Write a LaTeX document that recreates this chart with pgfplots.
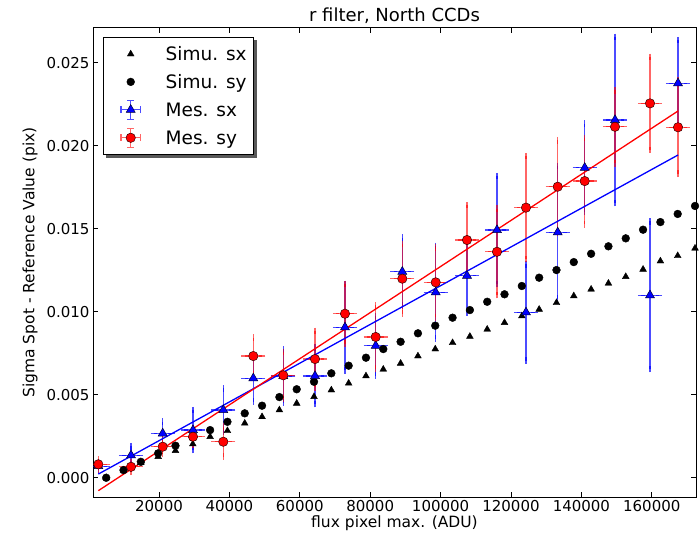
\documentclass[border=0pt]{standalone}
\usepackage{pgfplots}
\pgfplotsset{compat=1.18}
\usepackage{pgfplotstable}
\usepackage{fontspec}
\setmainfont{DejaVu Sans}
\pgfdeclarelayer{shadowlayer}
\pgfsetlayers{shadowlayer,main}

\pgfplotsset{
  simimg/.style={legend image code/.code={\path[draw=none,fill=none] (0pt,-10pt) rectangle (55pt,10pt); \draw[##1] plot coordinates {(22pt,0pt)};}},
  errimg/.style={legend image code/.code={\path[draw=none,fill=none] (0pt,-10pt) rectangle (55pt,10pt);
    \draw[#1, line width=1.2pt] (22pt,-9.5pt)--(22pt,9.5pt) (12.3pt,0pt)--(31.7pt,0pt)
     (18.7pt,-9.5pt)--(25.3pt,-9.5pt) (18.7pt,9.5pt)--(25.3pt,9.5pt)
     (12.3pt,-3.3pt)--(12.3pt,3.3pt) (31.7pt,-3.3pt)--(31.7pt,3.3pt);
    \draw[##1] plot coordinates {(22pt,0pt)};}},
}

\pgfplotstableread{
x y
5000 0.00000
9920 0.00046
14840 0.00090
19760 0.00127
24680 0.00163
29600 0.00203
34520 0.00247
39440 0.00283
44360 0.00328
49280 0.00367
54200 0.00408
59120 0.00448
64040 0.00488
68960 0.00528
73880 0.00569
78800 0.00613
83720 0.00653
88640 0.00689
93560 0.00733
98480 0.00775
103400 0.00813
108320 0.00851
113240 0.00894
118160 0.00934
123080 0.00974
128000 0.01014
132920 0.01054
137840 0.01095
142760 0.01135
147680 0.01171
152600 0.01211
157520 0.01255
162440 0.01305
167360 0.01337
172280 0.01382
}\simsx

\pgfplotstableread{
x y
5000 0.00000
9920 0.00046
14840 0.00096
19760 0.00147
24680 0.00193
29600 0.00243
34520 0.00287
39440 0.00337
44360 0.00388
49280 0.00434
54200 0.00486
59120 0.00533
64040 0.00578
68960 0.00629
73880 0.00675
78800 0.00723
83720 0.00775
88640 0.00819
93560 0.00870
98480 0.00916
103400 0.00964
108320 0.01010
113240 0.01060
118160 0.01105
123080 0.01155
128000 0.01205
132920 0.01251
137840 0.01299
142760 0.01349
147680 0.01394
152600 0.01442
157520 0.01494
162440 0.01540
167360 0.01589
172280 0.01637
}\simsy

\pgfplotstableread{
x y ex ey
2760 0.00070 2500 0.00025
12050 0.00135 2500 0.00055
21050 0.00267 2500 0.00070
29660 0.00287 2500 0.00120
38270 0.00408 2500 0.00130
46790 0.00599 2500 0.00140
55310 0.00613 2500 0.00160
64320 0.00613 2500 0.00170
72840 0.00906 2500 0.00260
81560 0.00795 2500 0.00180
89120 0.01241 2500 0.00205
98610 0.01117 2500 0.00280
107500 0.01217 2500 0.00220
116020 0.01492 2500 0.00325
124260 0.00996 2500 0.00290
133270 0.01478 2500 0.00400
140940 0.01867 2500 0.00265
149550 0.02155 2500 0.00500
159490 0.01099 2500 0.00445
167450 0.02376 2500 0.00260
}\messx

\pgfplotstableread{
x y ex ey
2760 0.00081 2500 0.00030
12050 0.00066 2500 0.00030
21050 0.00187 2500 0.00042
29660 0.00247 2500 0.00050
38270 0.00217 2500 0.00090
46790 0.00733 2500 0.00110
55310 0.00617 2500 0.00140
64320 0.00715 2500 0.00170
72840 0.00988 2500 0.00180
81560 0.00848 2500 0.00190
89120 0.01199 2500 0.00210
98610 0.01177 2500 0.00210
107500 0.01432 2500 0.00210
116020 0.01361 2500 0.00260
124260 0.01627 2500 0.00310
133270 0.01753 2500 0.00280
140940 0.01787 2500 0.00260
149550 0.02114 2500 0.00220
159490 0.02255 2500 0.00280
167450 0.02111 2500 0.00280
}\messy

\begin{document}
\begin{tikzpicture}
\begin{axis}[
  at={(93pt,39pt)}, anchor=south west,
  scale only axis, width=603pt, height=469pt,
  xmin=1250, xmax=172560, ymin=-0.00116, ymax=0.02709,
  xtick={20000,40000,60000,80000,100000,120000,140000,160000},
  ytick={0,0.005,0.01,0.015,0.02,0.025},
  scaled x ticks=false, scaled y ticks=false,
  xticklabel style={/pgf/number format/.cd, fixed, 1000 sep={}},
  yticklabel style={/pgf/number format/.cd, fixed, fixed zerofill, precision=3},
  /pgf/number format/assume math mode=true,
  tick align=inside, major tick length=5pt,
  tick style={black, line width=0.8pt},
  axis line style={black, line width=1pt},
  ticklabel style={font=\fontsize{15}{18}\selectfont, text=black},
  xlabel={flux pixel max. (ADU)},
  ylabel={Sigma Spot - Reference Value (pix)},
  xlabel style={font=\fontsize{15.5}{18}\selectfont, at={(axis description cs:0.5,-0.0554)}, anchor=center},
  ylabel style={font=\fontsize{15.5}{18}\selectfont, at={(axis description cs:-0.1045,0.5)}, anchor=center},
  title={r filter, North CCDs},
  title style={font=\fontsize{18}{21}\selectfont, at={(axis description cs:0.5,1.0128)}, anchor=center},
  legend cell align=left,
  legend style={name=leg, at={(axis description cs:0.0171,0.980)}, anchor=north west,
    draw=black, line width=0.8pt, fill=white,
    font=\fontsize{18.5}{22}\selectfont,
    inner xsep=5pt, inner ysep=6.3pt, row sep=7.8pt,
    nodes={inner xsep=2pt, inner ysep=0pt, text height=13.5pt, text depth=0pt}},
  error bars/error mark=-,
]
\addplot[only marks, mark=triangle*, mark size=3.9pt, black, mark options={line width=0.4pt}, simimg]
  table[x=x,y=y] {\simsx};
\addlegendentry{Simu. sx}
\addplot[only marks, mark=*, mark size=3.9pt, black, mark options={line width=0.4pt}, simimg]
  table[x=x,y=y] {\simsy};
\addlegendentry{Simu. sy}
\addplot[only marks, mark=triangle*, mark size=5.2pt, blue,
  mark options={fill=blue, draw=black!80!blue, line width=0.5pt},
  errimg={blue, opacity=0.7},
  error bars/.cd, x dir=both, x explicit, y dir=both, y explicit,
  error bar style={blue, opacity=0.7, line width=1.2pt},
  error mark options={blue, opacity=0.7, mark size=3.3pt, line width=1.2pt}]
  table[x=x,y=y,x error=ex,y error=ey] {\messx};
\addlegendentry{Mes. sx}
\addplot[only marks, mark=*, mark size=4.7pt, red,
  mark options={fill=red, draw=black!80!red, line width=0.5pt},
  errimg={red, opacity=0.6},
  error bars/.cd, x dir=both, x explicit, y dir=both, y explicit,
  error bar style={red, opacity=0.6, line width=1.2pt},
  error mark options={red, opacity=0.6, mark size=3.3pt, line width=1.2pt}]
  table[x=x,y=y,x error=ex,y error=ey] {\messy};
\addlegendentry{Mes. sy}
\addplot[blue, line width=1.3pt, no marks, forget plot] coordinates {(2760,0.00022) (167450,0.01944)};
\addplot[red, line width=1.3pt, no marks, forget plot] coordinates {(2760,-0.00078) (167450,0.02209)};
\end{axis}
\begin{pgfonlayer}{shadowlayer}
\fill[black!65] ([xshift=3pt,yshift=-3pt]leg.south west) rectangle ([xshift=3pt,yshift=-3pt]leg.north east);
\end{pgfonlayer}
\pgfresetboundingbox
\path (0pt,0pt) rectangle (700pt,536pt);
\end{tikzpicture}
\end{document}
